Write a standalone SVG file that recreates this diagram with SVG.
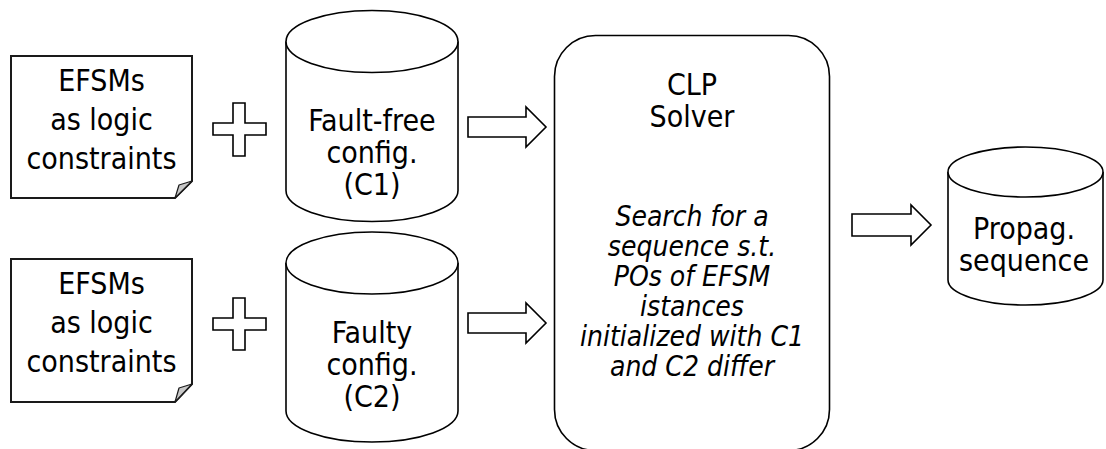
<svg xmlns="http://www.w3.org/2000/svg" width="1106" height="449" viewBox="0 0 1106 449">
<style>
  .shape { fill: #ffffff; stroke: #000000; stroke-width: 1.6; }
  .note { fill: #ffffff; stroke: #1a1a1a; stroke-width: 2; stroke-linejoin: miter; }
  .fold { fill: #c8c8c8; stroke: #1a1a1a; stroke-width: 1.2; stroke-linejoin: round; }
  .arrow { fill: #ffffff; stroke: #000000; stroke-width: 1.6; stroke-linejoin: miter; }
  text { font-family: "DejaVu Sans Condensed", "DejaVu Sans", sans-serif; font-stretch: condensed; font-size: 30px; fill: #000000; text-anchor: middle; }
  .it { font-style: italic; font-size: 28px; }
</style>
<rect width="1106" height="449" fill="#ffffff"/>

<g id="note1">
  <path class="note" d="M11,56 H192 V181 L175,198 H11 Z"/>
  <path class="fold" d="M192,181 L175,198 L179,185 Z"/>
  <text x="101.5" y="91">EFSMs</text>
  <text x="101.5" y="130">as logic</text>
  <text x="101.5" y="169">constraints</text>
</g>

<g id="note2">
  <path class="note" d="M11,259 H192 V384 L175,402 H11 Z"/>
  <path class="fold" d="M192,384 L175,402 L179,388 Z"/>
  <text x="101.5" y="294">EFSMs</text>
  <text x="101.5" y="333">as logic</text>
  <text x="101.5" y="372">constraints</text>
</g>

<g id="plus1">
  <path class="shape" d="M233,103 H245 V123 H266 V135 H245 V156 H233 V135 H213 V123 H233 Z"/>
</g>
<g id="plus2">
  <path class="shape" d="M233,298 H245 V318 H266 V330 H245 V350 H233 V330 H213 V318 H233 Z"/>
</g>

<g id="cyl1">
  <path class="shape" d="M286,41.5 V190.5 A86,31 0 0 0 458,190.5 V41.5"/>
  <ellipse class="shape" cx="372" cy="41.5" rx="86" ry="31"/>
  <text x="372" y="131">Fault-free</text>
  <text x="372" y="163">config.</text>
  <text x="372" y="195">(C1)</text>
</g>

<g id="cyl2">
  <path class="shape" d="M286,263 V411 A86,31 0 0 0 458,411 V263"/>
  <ellipse class="shape" cx="372" cy="263" rx="86" ry="31"/>
  <text x="372" y="343">Faulty</text>
  <text x="372" y="375">config.</text>
  <text x="372" y="407">(C2)</text>
</g>

<g id="clp">
  <rect class="shape" x="554.5" y="35.5" width="275" height="415" rx="41" ry="41"/>
  <text x="692" y="95">CLP</text>
  <text x="692" y="127">Solver</text>
  <text class="it" x="692" y="226">Search for a</text>
  <text class="it" x="692" y="256">sequence s.t.</text>
  <text class="it" x="692" y="286">POs of EFSM</text>
  <text class="it" x="692" y="316">istances</text>
  <text class="it" x="692" y="346">initialized with C1</text>
  <text class="it" x="692" y="376">and C2 differ</text>
</g>

<g id="cyl3">
  <path class="shape" d="M948,172 V280 A77.5,25 0 0 0 1103,280 V172"/>
  <ellipse class="shape" cx="1025.5" cy="172" rx="77.5" ry="25"/>
  <text x="1024" y="239">Propag.</text>
  <text x="1024" y="271">sequence</text>
</g>

<g id="connectors">
  <path class="arrow" d="M468,117 H526 V107 L546,127 L526,147 V137 H468 Z"/>
  <path class="arrow" d="M468,313 H526 V303 L546,323 L526,343 V333 H468 Z"/>
  <path class="arrow" d="M852,214 H911 V205 L931,225 L911,245 V236 H852 Z"/>
</g>
</svg>
